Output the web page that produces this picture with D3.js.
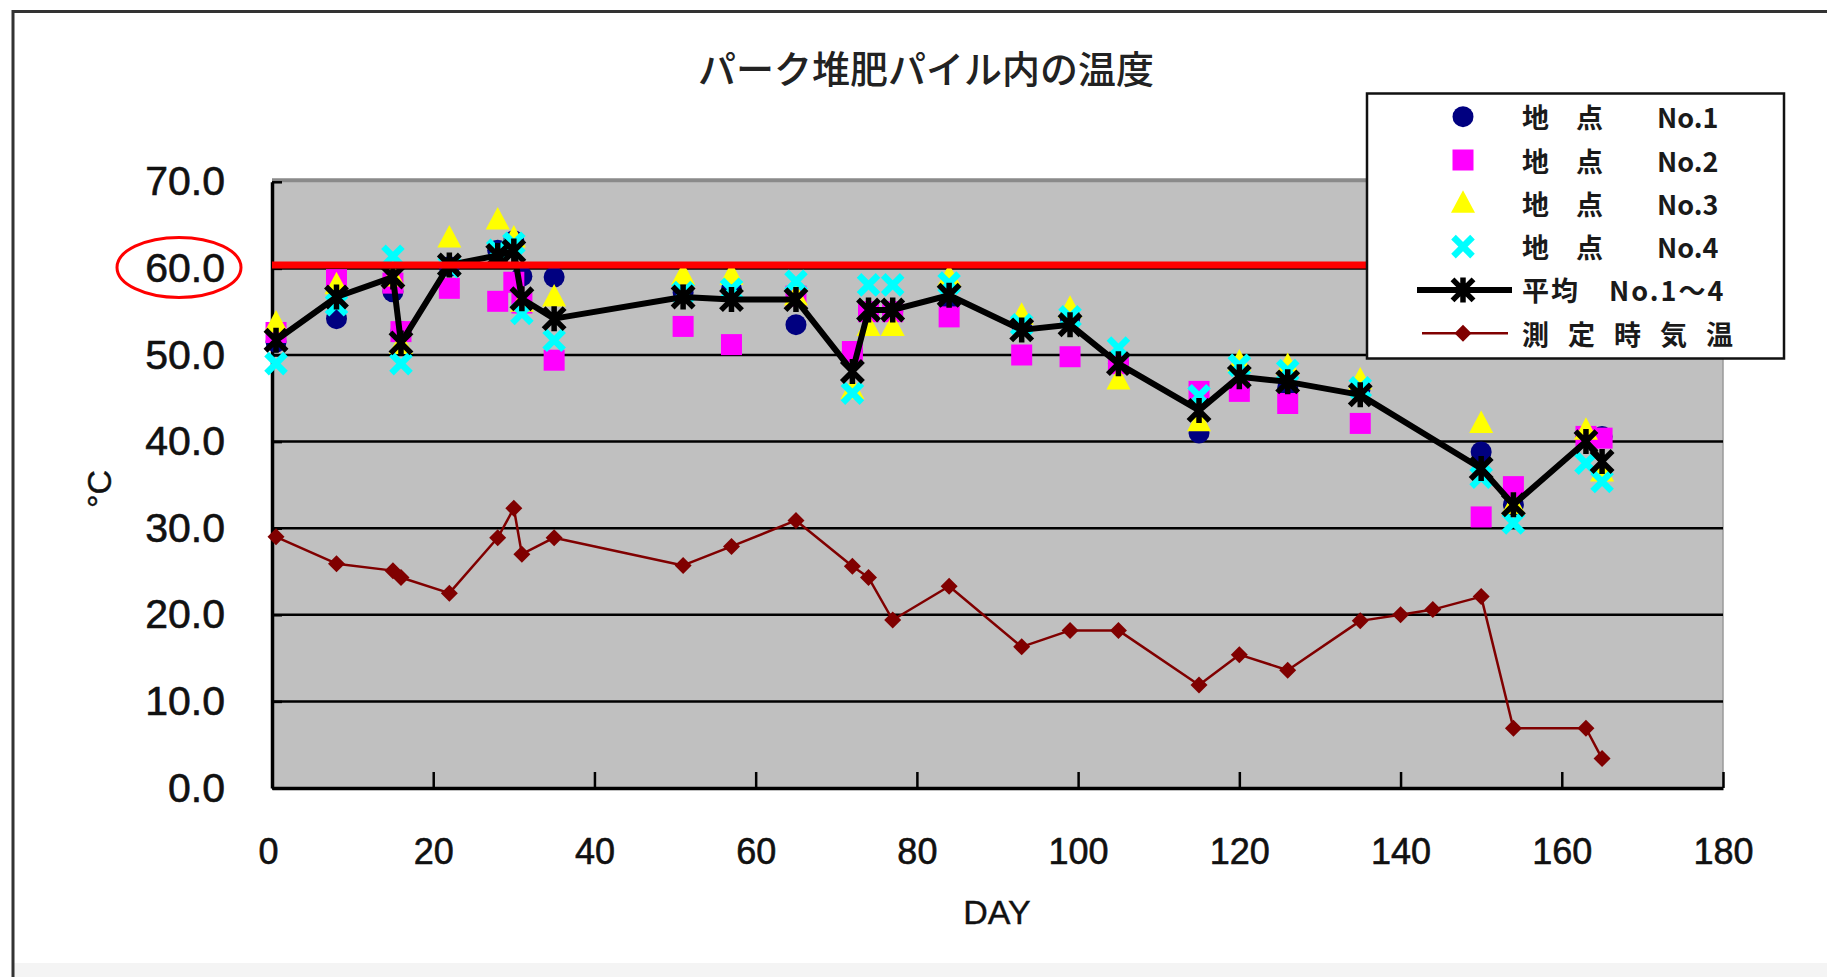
<!DOCTYPE html>
<html>
<head>
<meta charset="utf-8">
<script src="https://cdn.jsdelivr.net/npm/d3@7"></script>
<style>
  html, body { margin: 0; padding: 0; background: #fff; }
  svg { display: block; }
</style>
</head>
<body>
<svg id="chart" width="1827" height="977"></svg>
<script>
// ---- data: compost pile temperature by measuring point ----
const days = [0.5, 8, 15, 16, 22, 28, 30, 31, 35, 51, 57, 65, 72, 74, 77, 84, 93, 99, 105, 115, 120, 126, 135, 150, 154, 163, 165];
const point1 = [51.5, 54.2, 57.3, 52.7, 60.2, 62.1, 63.2, 59.1, 59.0, 57.2, 57.6, 53.5, 50.4, 55.0, 55.0, 55.9, 53.5, 54.4, 49.0, 41.0, 46.2, 46.2, 46.2, 38.8, 32.7, 40.6, 40.6];
const point2 = [52.6, 58.7, 58.3, 52.7, 57.7, 56.2, 58.4, 56.0, 49.4, 53.3, 51.2, 56.8, 50.4, 55.0, 55.0, 54.4, 50.0, 49.8, 49.0, 45.8, 45.8, 44.4, 42.1, 31.3, 34.8, 40.6, 40.4];
const point3 = [53.7, 58.1, 59.0, 51.2, 63.5, 65.6, 63.5, 56.1, 56.7, 59.2, 59.2, 56.8, 46.0, 53.3, 53.3, 59.0, 54.6, 55.4, 47.1, 42.3, 49.2, 48.8, 47.1, 42.1, 32.7, 41.3, 36.5];
const point4 = [49.0, 55.8, 61.4, 49.0, 60.2, 62.1, 62.9, 54.8, 51.7, 57.2, 57.6, 58.5, 45.6, 58.1, 58.1, 58.3, 53.5, 54.4, 50.8, 45.3, 48.8, 48.2, 46.2, 35.9, 30.6, 37.5, 35.4];
const average = [51.7, 56.7, 59.0, 51.4, 60.4, 61.5, 62.0, 56.5, 54.2, 56.7, 56.4, 56.4, 48.1, 55.2, 55.2, 56.9, 52.9, 53.5, 49.0, 43.6, 47.5, 46.9, 45.4, 36.9, 32.7, 40.0, 37.7];

// air temperature at measuring time
const airDays = [0.5, 8, 15, 16, 22, 28, 30, 31, 35, 51, 57, 65, 72, 74, 77, 84, 93, 99, 105, 115, 120, 126, 135, 140, 144, 150, 154, 163, 165];
const airTemp = [29.0, 25.9, 25.1, 24.3, 22.5, 28.9, 32.3, 27.0, 28.9, 25.7, 27.9, 30.9, 25.6, 24.3, 19.4, 23.3, 16.3, 18.2, 18.2, 11.9, 15.4, 13.6, 19.3, 20.0, 20.6, 22.1, 6.9, 6.9, 3.4];

// axes
const xTicks = [0, 20, 40, 60, 80, 100, 120, 140, 160, 180];
const yTicks = [0, 10, 20, 30, 40, 50, 60, 70];

// 60 degree marker line (value and day extent)
const markLevel = 60.4;
const markDays = [0, 136.6];

const titleText = "パーク堆肥パイル内の温度";
const xTitle = "DAY";
const yTitle = "°C";
const legendNames = ["地　点　　No.1", "地　点　　No.2", "地　点　　No.3", "地　点　　No.4", "平均　No.1～4", "測定時気温"];

// ---- layout ----
const svg = d3.select("#chart");
const L = 272, R = 1723, T = 181.8, B = 788;
const x = d3.scaleLinear().domain([0, 180]).range([L, R]);
const y = d3.scaleLinear().domain([0, 70]).range([B, T]);

const tickFont = "'Liberation Sans', Arial, sans-serif";
const cjkFont = "'Noto Sans CJK JP', sans-serif";

// outer frame
svg.append("rect").attr("x", 14).attr("y", 963).attr("width", 1813).attr("height", 14).attr("fill", "#f4f4f4");
svg.append("path").attr("d", "M13,977 V11.5 H1827").attr("fill", "none").attr("stroke", "#333").attr("stroke-width", 3);

// title
svg.append("text").attr("x", 926).attr("y", 66).attr("text-anchor", "middle").attr("dominant-baseline", "central")
  .attr("font-family", cjkFont).attr("font-size", 38).attr("font-weight", 500).attr("fill", "#222")
  .text(titleText);

// plot area
svg.append("rect").attr("x", L).attr("y", T).attr("width", R - L).attr("height", B - T).attr("fill", "#c0c0c0");
svg.append("line").attr("x1", L).attr("x2", R).attr("y1", T - 1.5).attr("y2", T - 1.5).attr("stroke", "#8a8a8a").attr("stroke-width", 4);
svg.append("line").attr("x1", R).attr("x2", R).attr("y1", T).attr("y2", B).attr("stroke", "#9a9a9a").attr("stroke-width", 1.5);

// gridlines
svg.append("g").selectAll("line").data(yTicks.filter(v => v > 0 && v < 70)).join("line")
  .attr("x1", L).attr("x2", R).attr("y1", d => y(d)).attr("y2", d => y(d))
  .attr("stroke", "#000").attr("stroke-width", 2.5);

// x axis
const gx = svg.append("g").attr("transform", `translate(0,${B})`)
  .call(d3.axisBottom(x).tickValues(xTicks).tickSizeInner(-16).tickSizeOuter(0).tickPadding(50));
gx.select(".domain").attr("stroke", "#000").attr("stroke-width", 3.5);
gx.selectAll(".tick line").attr("stroke", "#000").attr("stroke-width", 2.5);
gx.selectAll(".tick text").attr("font-family", tickFont).attr("font-size", 36).attr("fill", "#111")
  .attr("stroke", "#111").attr("stroke-width", 0.6)
  .attr("dx", d => d === 0 ? -4 : 0);

// y axis
const gy = svg.append("g").attr("transform", `translate(${L},0)`)
  .call(d3.axisLeft(y).tickValues(yTicks).tickFormat(d3.format(".1f")).tickSizeInner(-10).tickSizeOuter(0).tickPadding(47));
gy.select(".domain").attr("stroke", "#000").attr("stroke-width", 3.5);
gy.selectAll(".tick line").attr("stroke", "#000").attr("stroke-width", 2.5);
gy.selectAll(".tick text").attr("font-family", tickFont).attr("font-size", 41).attr("fill", "#111")
  .attr("stroke", "#111").attr("stroke-width", 0.6);

// axis titles
svg.append("text").attr("x", 997).attr("y", 912).attr("text-anchor", "middle").attr("dominant-baseline", "central")
  .attr("font-family", tickFont).attr("font-size", 34).attr("fill", "#111").attr("stroke", "#111").attr("stroke-width", 0.4).text(xTitle);
svg.append("text").attr("transform", "translate(99,489) rotate(-90)").attr("text-anchor", "middle").attr("dominant-baseline", "central")
  .attr("font-family", tickFont).attr("font-size", 34).attr("fill", "#111").attr("stroke", "#111").attr("stroke-width", 0.4).text(yTitle);

// ---- marker shapes ----
const sym = {
  circle: g => g.append("circle").attr("r", 10.5).attr("fill", "#000080"),
  square: g => g.append("rect").attr("x", -10.5).attr("y", -10.5).attr("width", 21).attr("height", 21).attr("fill", "#ff00ff"),
  triangle: g => g.append("path").attr("d", "M0,-13 L12,9.5 L-12,9.5 Z").attr("fill", "#ffff00"),
  cross: g => g.append("path").attr("d", "M-9.5,-9.5 L9.5,9.5 M-9.5,9.5 L9.5,-9.5").attr("stroke", "#00ffff").attr("stroke-width", 6.5).attr("fill", "none"),
  star: g => g.append("path").attr("d", "M-10.5,-10.5 L10.5,10.5 M-10.5,10.5 L10.5,-10.5 M0,-12.5 L0,12.5").attr("stroke", "#000").attr("stroke-width", 5.5).attr("fill", "none"),
  diamond: g => g.append("path").attr("d", "M0,-8.5 L8.5,0 L0,8.5 L-8.5,0 Z").attr("fill", "#800000")
};

function drawMarkers(xs, ys, shape) {
  const g = svg.append("g");
  xs.forEach((d, i) => {
    const m = g.append("g").attr("transform", `translate(${x(d)},${y(ys[i])})`);
    sym[shape](m);
  });
}

function drawLine(xs, ys, color, width) {
  const line = d3.line().x(d => x(d[0])).y(d => y(d[1]));
  svg.append("path").datum(xs.map((d, i) => [d, ys[i]])).attr("d", line)
    .attr("fill", "none").attr("stroke", color).attr("stroke-width", width).attr("stroke-linejoin", "round");
}

// individual measuring points (markers only)
drawMarkers(days, point1, "circle");
drawMarkers(days, point2, "square");
drawMarkers(days, point3, "triangle");
drawMarkers(days, point4, "cross");

// mean of points 1-4
drawLine(days, average, "#000", 6);
drawMarkers(days, average, "star");

// air temperature
drawLine(airDays, airTemp, "#800000", 2.5);
drawMarkers(airDays, airTemp, "diamond");

// 60 degree marker line and circled tick label
svg.append("line").attr("x1", x(markDays[0])).attr("x2", x(markDays[1]))
  .attr("y1", y(markLevel)).attr("y2", y(markLevel)).attr("stroke", "#ff0000").attr("stroke-width", 7);
svg.append("ellipse").attr("cx", 179).attr("cy", y(60) - 1).attr("rx", 62).attr("ry", 30)
  .attr("fill", "none").attr("stroke", "#ff0000").attr("stroke-width", 3);

// ---- legend ----
const lg = svg.append("g");
lg.append("rect").attr("x", 1367).attr("y", 93.5).attr("width", 417).attr("height", 265)
  .attr("fill", "#fff").attr("stroke", "#111").attr("stroke-width", 2.5);
const rowY = i => 116.7 + i * 43.3;
const legendShapes = ["circle", "square", "triangle", "cross"];
legendShapes.forEach((s, i) => {
  const m = lg.append("g").attr("transform", `translate(1463,${rowY(i)})`);
  sym[s](m);
});
lg.append("line").attr("x1", 1417).attr("x2", 1512).attr("y1", rowY(4)).attr("y2", rowY(4)).attr("stroke", "#000").attr("stroke-width", 6);
sym.star(lg.append("g").attr("transform", `translate(1463,${rowY(4)})`));
lg.append("line").attr("x1", 1422).attr("x2", 1508).attr("y1", rowY(5)).attr("y2", rowY(5)).attr("stroke", "#800000").attr("stroke-width", 2.5);
sym.diamond(lg.append("g").attr("transform", `translate(1463,${rowY(5)})`));

const spacing = [0, 0, 0, 0, 2, 19];
legendNames.forEach((name, i) => {
  lg.append("text").attr("x", 1522).attr("y", rowY(i)).attr("dominant-baseline", "central")
    .attr("font-family", cjkFont).attr("font-size", 27).attr("font-weight", 700).attr("fill", "#1a1a1a")
    .attr("letter-spacing", spacing[i]).style("white-space", "pre").text(name);
});
</script>
</body>
</html>
